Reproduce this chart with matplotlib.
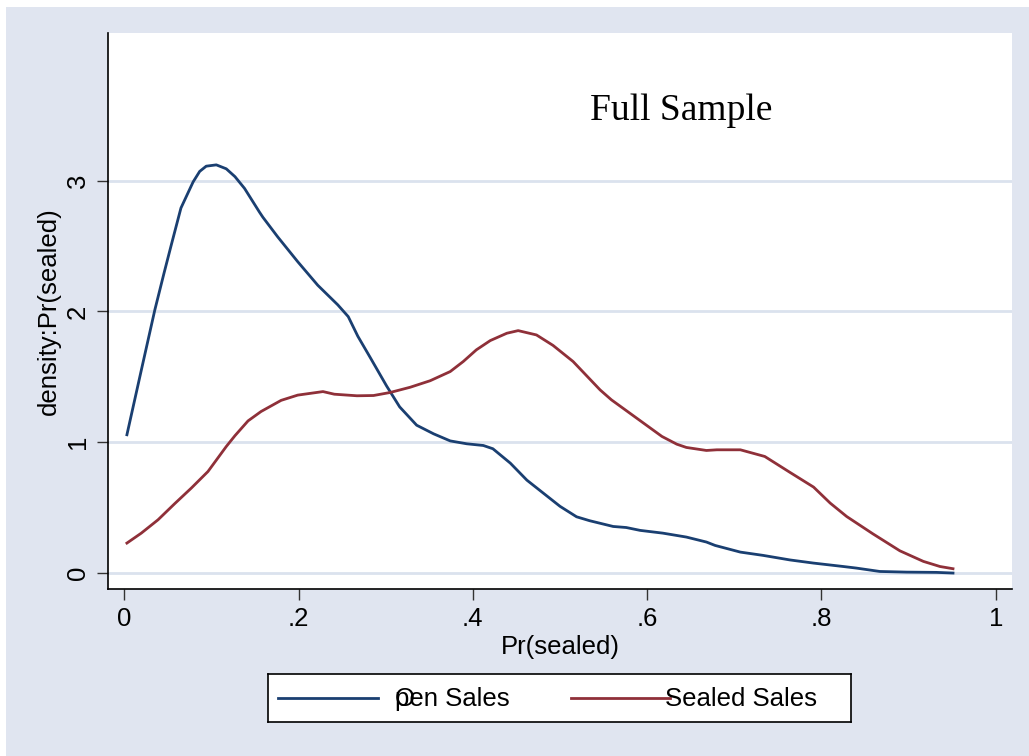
import matplotlib.pyplot as plt
from matplotlib.patches import Rectangle

# kernel density of Pr(sealed), open-sale auctions
open_x = [0.003, 0.0195, 0.035, 0.0455, 0.054, 0.065, 0.079, 0.0865, 0.094, 0.1056,
          0.117, 0.127, 0.138, 0.155, 0.159, 0.176, 0.199, 0.222, 0.245, 0.257,
          0.268, 0.282, 0.301, 0.316, 0.3355, 0.355, 0.374, 0.393, 0.412, 0.423,
          0.443, 0.462, 0.481, 0.500, 0.519, 0.534, 0.561, 0.576, 0.592, 0.618,
          0.645, 0.668, 0.678, 0.707, 0.733, 0.764, 0.791, 0.825, 0.840, 0.867,
          0.898, 0.932, 0.951]
open_y = [1.057, 1.55, 2.01, 2.29, 2.51, 2.79, 2.99, 3.07, 3.11, 3.12,
          3.09, 3.03, 2.94, 2.76, 2.72, 2.57, 2.38, 2.20, 2.05, 1.96,
          1.81, 1.65, 1.43, 1.27, 1.13, 1.064, 1.01, 0.988, 0.975, 0.95,
          0.84, 0.71, 0.61, 0.51, 0.43, 0.40, 0.356, 0.348, 0.326, 0.305,
          0.275, 0.237, 0.211, 0.16, 0.135, 0.10, 0.076, 0.05, 0.038, 0.012,
          0.007, 0.005, 0.0]

# kernel density of Pr(sealed), sealed-bid auctions
sealed_x = [0.003, 0.0195, 0.0387, 0.0578, 0.077, 0.096, 0.117, 0.127, 0.142, 0.157,
            0.180, 0.199, 0.228, 0.241, 0.267, 0.286, 0.305, 0.328, 0.351, 0.374,
            0.389, 0.404, 0.42, 0.439, 0.452, 0.473, 0.492, 0.515, 0.546, 0.559,
            0.588, 0.617, 0.634, 0.645, 0.668, 0.680, 0.707, 0.735, 0.764, 0.791,
            0.810, 0.829, 0.859, 0.890, 0.917, 0.936, 0.951]
sealed_y = [0.229, 0.305, 0.407, 0.53, 0.65, 0.776, 0.967, 1.05, 1.163, 1.235,
            1.32, 1.36, 1.387, 1.367, 1.355, 1.357, 1.38, 1.42, 1.47, 1.54,
            1.617, 1.706, 1.777, 1.833, 1.853, 1.82, 1.74, 1.617, 1.40, 1.324,
            1.184, 1.044, 0.985, 0.96, 0.937, 0.942, 0.942, 0.891, 0.769, 0.657,
            0.535, 0.432, 0.30, 0.17, 0.089, 0.05, 0.033]

xticks = [0, 0.2, 0.4, 0.6, 0.8, 1]
xticklabels = ["0", ".2", ".4", ".6", ".8", "1"]
yticks = [0, 1, 2, 3]
yticklabels = ["0", "1", "2", "3"]
legend_labels = ["Open Sales", "Sealed Sales"]

BLUE = "#1a3f71"
RED = "#8f3039"
BG = "#e0e5f0"
GRID = "#dbe2ee"

plt.rcParams["font.family"] = ["Liberation Sans", "DejaVu Sans"]

W, H = 1029, 756
fig = plt.figure(figsize=(W / 100, H / 100), dpi=100, facecolor="white")
fig.patches.append(Rectangle((6 / W, 0), 1, 1 - 7 / H, transform=fig.transFigure,
                             facecolor=BG, edgecolor="none", zorder=-10))

ax = fig.add_axes([108 / W, 1 - 589 / H, 904 / W, 556 / H])
ax.set_facecolor("white")
ax.plot(open_x, open_y, color=BLUE, lw=2.0, zorder=3)
ax.plot(sealed_x, sealed_y, color=RED, lw=2.0, zorder=3)

ax.set_xlim(-0.0187, 1.0187)
ax.set_ylim(-0.122, 4.128)
ax.set_xticks(xticks)
ax.set_xticklabels(xticklabels, fontsize=18.5)
ax.set_yticks(yticks)
ax.set_yticklabels(yticklabels, fontsize=18.5, rotation=90, va="center")
ax.tick_params(direction="out", length=8, width=1, color="#333333", pad=5)
ax.yaxis.grid(True, color=GRID, lw=2)
ax.set_axisbelow(True)
for side in ["top", "right"]:
    ax.spines[side].set_visible(False)
for side in ["left", "bottom"]:
    ax.spines[side].set_linewidth(1.2)
    ax.spines[side].set_color("black")

ax.set_xlabel("Pr(sealed)", fontsize=18.5, labelpad=3)
ax.set_ylabel("density:Pr(sealed)", fontsize=18.5, labelpad=4)

ax.text(0.534, 3.46, "Full Sample", fontsize=27, family=["Liberation Serif", "DejaVu Serif"],
        ha="left", va="baseline")

# legend box drawn in pixel coordinates
lg = fig.add_axes([268 / W, 1 - 722 / H, 583 / W, 48 / H])
lg.set_xlim(268, 851)
lg.set_ylim(722, 674)
lg.set_xticks([])
lg.set_yticks([])
for s in lg.spines.values():
    s.set_linewidth(1.2)
    s.set_color("black")
lg.plot([278, 378], [698, 698], color=BLUE, lw=2.0)
lg.text(395, 699, legend_labels[0][0], fontsize=18.5, va="center", ha="left")
lg.text(395, 699, legend_labels[0][1:], fontsize=18.5, va="center", ha="left")
lg.plot([571, 670], [698, 698], color=RED, lw=2.0)
lg.text(665, 699, legend_labels[1], fontsize=18.5, va="center", ha="left")

fig.savefig("out.png", dpi=100, facecolor=fig.get_facecolor())
